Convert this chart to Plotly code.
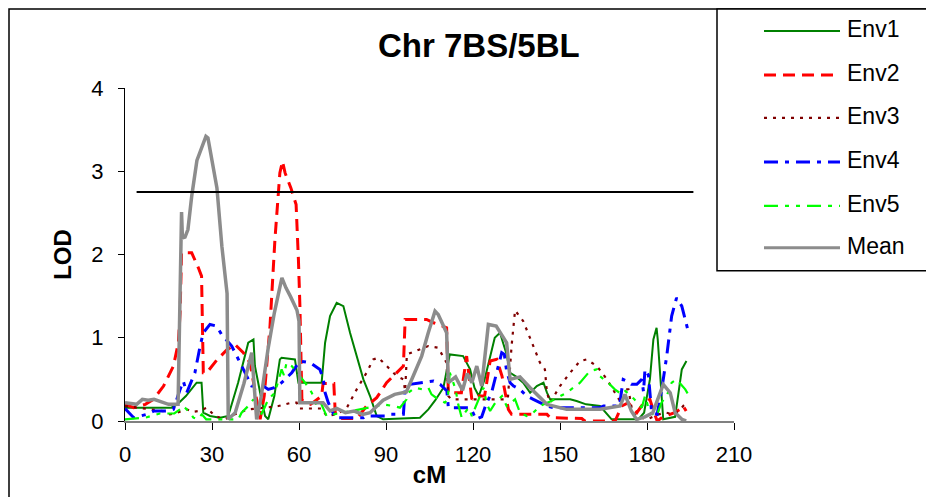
import plotly.graph_objects as go

# ---------------- data (cM, LOD) ----------------
names = ["Env1", "Env2", "Env3", "Env4", "Env5", "Mean"]

env1_x = [0, 16, 18, 21, 24.7, 26.4, 27, 29.3, 32.8, 35.6, 39, 42.5, 44.3, 44.8, 46.6, 48.3, 49.4, 51.5, 53.4, 54, 58.6, 59.8, 65, 67.8, 69, 70.7, 73, 75.3, 77.6, 79.9, 82.2, 84.5, 86.8, 89, 95, 101.7, 104.6, 107, 109.8, 112, 116.6, 119, 120.5, 122, 124, 126, 127.5, 129.3, 131.6, 132.8, 135, 137.3, 139.7, 142, 144.3, 145.5, 146.6, 153.5, 155.7, 159, 163.8, 167.8, 177, 179, 181, 182.2, 183.3, 183.7, 184.5, 185.6, 189.7, 191, 192, 193.6]
env1_y = [0.16, 0.16, 0.2, 0.3, 0.46, 0.46, 0.1, 0.06, 0.04, 0.06, 0.46, 0.94, 0.98, 0.66, 0.34, 0.06, 0.02, 0.3, 0.74, 0.76, 0.74, 0.46, 0.46, 0.46, 0.94, 1.26, 1.42, 1.38, 1.06, 0.78, 0.5, 0.3, 0.06, 0.02, 0.03, 0.04, 0.14, 0.25, 0.4, 0.8, 0.78, 0.62, 0.4, 0.3, 0.5, 0.8, 1.0, 1.06, 0.8, 0.58, 0.53, 0.46, 0.34, 0.42, 0.46, 0.34, 0.26, 0.26, 0.24, 0.2, 0.18, 0.02, 0.02, 0.1, 0.5, 0.98, 1.12, 0.98, 0.6, 0.02, 0.05, 0.35, 0.62, 0.72]

env2_x = [0, 3, 7, 9.8, 13.3, 16.7, 18.4, 19, 19.5, 23, 25.3, 26.4, 27, 28.2, 31.6, 35, 37.9, 40.8, 43.1, 45.4, 46.6, 48, 50, 51.7, 53.4, 54.3, 55.2, 57.2, 59, 59.8, 60.3, 61, 64, 67.8, 68.3, 72, 72.5, 74, 80, 83.3, 86.8, 90.2, 93.7, 96, 96.6, 104, 106.4, 110.9, 111.5, 116, 117.8, 118.5, 119.6, 121, 124, 125.9, 128.2, 130, 131, 132.2, 133.3, 145.5, 146.6, 157.5, 158.5, 169, 171.3, 173.6, 175, 176.5, 178.5, 181, 182, 183.5, 185.5, 189.5, 191.4, 192.5, 193.5]
env2_y = [0.2, 0.16, 0.2, 0.26, 0.42, 0.66, 0.94, 1.3, 2.02, 2.02, 1.84, 1.74, 0.58, 0.58, 0.73, 0.85, 0.92, 0.82, 0.7, 0.22, 0.02, 0.3, 1.14, 2.18, 2.98, 3.12, 2.98, 2.8, 2.6, 1.94, 1.4, 0.25, 0.2, 0.3, 0.45, 0.45, 0.1, 0.03, 0.03, 0.18, 0.28, 0.46, 0.58, 0.66, 1.22, 1.22, 1.18, 1.12, 0.34, 0.34, 0.78, 0.6, 0.26, 0.3, 0.3, 0.72, 0.74, 0.54, 0.34, 0.14, 0.08, 0.08, 0.04, 0.03, 0.0, 0.0, 0.18, 0.22, 0.15, 0.1, 0.2, 0.26, 0.15, 0.0, 0.05, 0.1, 0.14, 0.18, 0.12]

env3_x = [0, 5, 9.8, 13, 15.5, 18, 21.3, 23.5, 25.5, 28.2, 31, 34.4, 37.9, 42.5, 48.3, 52.9, 57.5, 59.2, 59.8, 68, 69.5, 73, 76.5, 79.9, 83.3, 85.6, 87.4, 90.2, 93.7, 96, 96.6, 97.2, 100.2, 104.6, 108, 110.9, 111.5, 112.5, 132, 133.3, 134.5, 137.3, 140.8, 143.1, 144.8, 145.5, 146.6, 150, 153.5, 156.9, 159.2, 162.7, 166.2, 169.5, 170.5, 171.3, 173.6, 175, 177, 180, 184, 186.6, 189, 191, 192.5, 193.5]
env3_y = [0.18, 0.16, 0.14, 0.12, 0.08, 0.1, 0.14, 0.11, 0.12, 0.16, 0.06, 0.02, 0.08, 0.14, 0.16, 0.18, 0.22, 0.22, 0.15, 0.15, 0.06, 0.08, 0.16, 0.38, 0.58, 0.74, 0.76, 0.66, 0.54, 0.5, 0.36, 0.8, 0.84, 0.9, 0.88, 0.7, 0.3, 0.26, 0.26, 0.9, 1.33, 1.2, 0.9, 0.7, 0.62, 0.34, 0.22, 0.42, 0.58, 0.72, 0.74, 0.66, 0.5, 0.3, 0.25, 0.38, 0.38, 0.1, 0.05, 0.02, 0.08, 0.1, 0.08, 0.12, 0.18, 0.14]

env4_x = [0, 3, 7.5, 10, 15, 16.7, 19, 20.1, 21.3, 22.5, 24.1, 25.9, 27, 29.3, 31.6, 33.3, 36.8, 39.1, 41.4, 43.7, 47.7, 49.4, 51.5, 54, 57.5, 59.2, 60.3, 63.8, 67.2, 68.4, 69, 70.1, 71.8, 72.5, 82.2, 83, 90.2, 91.4, 96, 96.6, 98.3, 101.7, 106.4, 108.7, 111, 111.5, 118.9, 120, 121, 123, 124.5, 126.4, 128.2, 129.9, 130.8, 131.6, 132.8, 134, 136.2, 138.5, 140.8, 143.1, 145.5, 147.7, 163.8, 165, 169, 170.5, 171.8, 173, 174.6, 176.5, 178.2, 178.8, 179.3, 180.5, 181.6, 183.5, 185.1, 186.8, 188.5, 190.2, 192, 193.2, 194.2]
env4_y = [0.15, 0.04, 0.08, 0.12, 0.12, 0.14, 0.38, 0.48, 0.34, 0.45, 0.58, 0.9, 1.06, 1.16, 1.14, 1.04, 0.9, 0.74, 0.58, 0.42, 0.42, 0.38, 0.4, 0.46, 0.58, 0.66, 0.72, 0.7, 0.62, 0.5, 0.34, 0.22, 0.08, 0.04, 0.04, 0.06, 0.06, 0.08, 0.08, 0.38, 0.44, 0.46, 0.48, 0.44, 0.36, 0.16, 0.16, 0.1, 0.02, 0.05, 0.2, 0.34, 0.57, 0.82, 0.8, 0.6, 0.46, 0.42, 0.38, 0.3, 0.26, 0.22, 0.18, 0.16, 0.16, 0.18, 0.18, 0.18, 0.5, 0.48, 0.44, 0.44, 0.5, 0.35, 0.62, 0.55, 0.1, 0.08, 0.38, 0.78, 1.26, 1.48, 1.38, 1.22, 1.08]

env5_x = [0, 7, 9, 12, 17, 19, 20.1, 21.2, 22.4, 23.6, 25, 26.5, 28, 33, 39.1, 40.2, 42.5, 44.3, 45.5, 46.6, 48, 49.4, 51.7, 54, 54.8, 55.7, 57.5, 59.8, 62.1, 64.4, 66.1, 67.5, 69.5, 72, 75.3, 78.7, 81, 86.8, 89, 92.5, 94.8, 97.1, 97.7, 100, 102.5, 104.6, 105.7, 108, 110.3, 111.3, 112, 113.2, 114, 114.9, 116.1, 117.2, 118.5, 119.6, 122.4, 123.6, 124.8, 125.9, 127.7, 130, 131.6, 133, 134.5, 136.2, 138.5, 140.8, 143.1, 147, 152.3, 156.9, 160.3, 162.7, 163.7, 166.6, 168.9, 171.3, 172.5, 174.6, 177, 178.2, 179.3, 181, 183.3, 185, 187, 188.5, 190.2, 191.4, 193.2, 194.2]
env5_y = [0.02, 0.04, 0.06, 0.09, 0.09, 0.14, 0.18, 0.14, 0.1, 0.04, 0.02, 0.08, 0.02, 0.02, 0.02, 0.1, 0.18, 0.26, 0.12, 0.06, 0.15, 0.26, 0.34, 0.62, 0.55, 0.7, 0.66, 0.56, 0.46, 0.34, 0.18, 0.22, 0.06, 0.08, 0.1, 0.12, 0.14, 0.18, 0.2, 0.18, 0.16, 0.26, 0.34, 0.4, 0.38, 0.4, 0.32, 0.26, 0.22, 0.26, 0.58, 0.46, 0.38, 0.2, 0.04, 0.1, 0.16, 0.06, 0.3, 0.4, 0.2, 0.12, 0.22, 0.3, 0.18, 0.22, 0.26, 0.1, 0.06, 0.1, 0.18, 0.24, 0.34, 0.46, 0.6, 0.62, 0.54, 0.46, 0.38, 0.32, 0.36, 0.3, 0.2, 0.16, 0.3, 0.1, 0.06, 0.22, 0.32, 0.46, 0.5, 0.45, 0.38, 0.32]

mean_x = [0, 4, 6, 8, 10, 13, 15, 18.3, 19.5, 19.8, 20.7, 21.7, 23, 24.8, 26.5, 27.9, 28.6, 30, 31.7, 33.4, 35.2, 35.6, 38, 41, 43.7, 45.4, 47, 49.3, 51.5, 54.1, 55.5, 57, 59.3, 60, 60.3, 68.3, 70.7, 73, 76, 79, 82, 84.5, 89, 93, 96, 97, 99.5, 102.3, 104.5, 106.9, 108, 110.9, 111.5, 114, 116.4, 118, 119.6, 121.3, 123, 125.3, 128, 131, 131.6, 132.8, 136.2, 139.7, 143.2, 145.5, 152.3, 163.8, 170.7, 172.4, 174.6, 176.4, 179.3, 182, 185.6, 188, 189.7, 192, 193.5]
mean_y = [0.22, 0.2, 0.26, 0.25, 0.26, 0.22, 0.2, 0.2, 2.51, 2.2, 2.21, 2.3, 2.7, 3.13, 3.3, 3.42, 3.4, 3.1, 2.8, 2.1, 1.53, 0.02, 0.1, 0.45, 0.82, 0.02, 0.3, 0.86, 1.3, 1.72, 1.6, 1.5, 1.33, 1.2, 0.22, 0.22, 0.12, 0.15, 0.1, 0.12, 0.08, 0.1, 0.25, 0.32, 0.35, 0.35, 0.55, 0.78, 1.05, 1.32, 1.28, 1.06, 0.46, 0.53, 0.37, 0.57, 0.46, 0.66, 0.42, 1.16, 1.14, 0.98, 0.94, 0.5, 0.53, 0.4, 0.28, 0.2, 0.14, 0.14, 0.18, 0.32, 0.12, 0.02, 0.05, 0.1, 0.44, 0.34, 0.1, 0.02, 0.0]

threshold_x = [4, 196]
threshold_y = [2.75, 2.75]

x_ticks = [0, 30, 60, 90, 120, 150, 180, 210]
y_ticks = [0, 1, 2, 3, 4]

# ---------------- styles ----------------
colors = ["#008000", "#FF0000", "#800000", "#0000FF", "#00FF00", "#8C8C8C"]
widths = [2, 3, 2.2, 3, 2.2, 3.5]
dashes = ["solid", "12px,7px", "3px,6px", "14px,7px,4px,7px", "14px,7px,4px,7px,4px,7px", "solid"]

series = [(env1_x, env1_y), (env2_x, env2_y), (env3_x, env3_y),
          (env4_x, env4_y), (env5_x, env5_y), (mean_x, mean_y)]

fig = go.Figure()
for (xs, ys), name, c, w, d in zip(series, names, colors, widths, dashes):
    fig.add_trace(go.Scatter(x=xs, y=ys, mode="lines", name=name, showlegend=False,
                             line=dict(color=c, width=w, dash=d)))

fig.add_trace(go.Scatter(x=threshold_x, y=threshold_y, mode="lines", name="threshold",
                         showlegend=False, line=dict(color="#000000", width=2)))

# page offset (body margin) compensation
OFF = 8
W, H = 934, 497
L, R = 125 - OFF, 734 - OFF
T, B = 88 - OFF, 421.5 - OFF


def px(xp):  # screenshot pixel -> paper
    return (xp - OFF - L) / (R - L)


def py(yp):
    return (B - (yp - OFF)) / (B - T)


shapes = []
annotations = []
# outer chart frame and legend box
shapes.append(dict(type="rect", xref="paper", yref="paper",
                   x0=px(9), x1=px(960), y0=py(8.8), y1=py(520),
                   line=dict(color="#000000", width=1.5), fillcolor="rgba(0,0,0,0)", layer="below"))
shapes.append(dict(type="rect", xref="paper", yref="paper",
                   x0=px(717), x1=px(960), y0=py(8.8), y1=py(271),
                   line=dict(color="#000000", width=1.5), fillcolor="white", layer="below"))

row_y = [31, 75, 118, 162, 206, 248]
for i, name in enumerate(names):
    shapes.append(dict(type="line", xref="paper", yref="paper",
                       x0=px(764), x1=px(840), y0=py(row_y[i]), y1=py(row_y[i]),
                       line=dict(color=colors[i], width=min(widths[i], 3), dash=dashes[i])))
    annotations.append(dict(x=px(845), y=py(row_y[i] - 2), xref="paper", yref="paper",
                            text=name, showarrow=False, xanchor="left", yanchor="middle",
                            font=dict(size=23, color="#000000")))

annotations.append(dict(x=px(479), y=py(45), xref="paper", yref="paper",
                        text="<b>Chr 7BS/5BL</b>", showarrow=False,
                        xanchor="center", yanchor="middle",
                        font=dict(size=33, color="#000000")))

fig.update_layout(
    width=W, height=H,
    margin=dict(l=L, r=W - R, t=T, b=H - B, pad=0, autoexpand=False),
    paper_bgcolor="white", plot_bgcolor="white",
    font=dict(family="Liberation Sans, Arial, sans-serif", color="#000000", size=22),
    shapes=shapes, annotations=annotations,
    showlegend=False,
)
fig.update_xaxes(range=[0, 210], tickmode="array", tickvals=x_ticks, automargin=False,
                 ticks="outside", ticklen=7, tickcolor="#000000", tickwidth=1,
                 showline=True, linecolor="#808080", linewidth=2,
                 showgrid=False, zeroline=False, ticklabelstandoff=6,
                 tickfont=dict(size=22),
                 title=dict(text="<b>cM</b>", font=dict(size=24), standoff=0))
fig.update_yaxes(range=[0, 4], tickmode="array", tickvals=y_ticks, automargin=False,
                 ticks="outside", ticklen=6, tickcolor="#000000", tickwidth=1,
                 showline=True, linecolor="#000000", linewidth=1,
                 showgrid=False, zeroline=False, ticklabelstandoff=10,
                 tickfont=dict(size=22),
                 title=dict(text="<b>LOD</b>", font=dict(size=24), standoff=12))

fig.write_html("out.html")
